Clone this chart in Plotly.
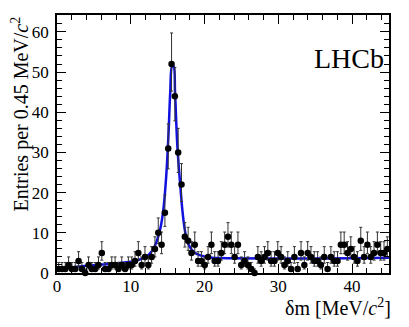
import numpy as np
import plotly.graph_objects as go

# bin centres of the delta-m histogram (0.45 MeV/c^2 bins)
bin_lo = 0.0
bin_width = 0.45
counts = [1, 1, 1, 2, 1, 1, 3, 1, 0, 2,
          1, 1, 2, 5, 1, 1, 2, 2, 1, 2,
          1, 2, 2, 3, 5, 2, 4, 2, 4, 6,
          10, 7, 15, 31, 52, 44, 30, 22, 9, 8,
          5, 7, 3, 3, 2, 4, 7, 3, 3, 5,
          7, 9, 7, 4, 7, 2, 3, 2, 1, 0,
          4, 3, 4, 5, 3, 3, 5, 4, 2, 3,
          1, 4, 1, 5, 2, 5, 4, 3, 3, 2,
          4, 1, 4, 3, 3, 7, 7, 5, 6, 4,
          3, 8, 4, 7, 4, 5, 7, 5, 5, 6]

# fit curve
fit_x = [0, 1, 2, 4, 6, 8, 10, 11, 12, 12.5, 13, 13.5, 14, 14.4, 14.8, 15.1,
         15.35, 15.6, 15.8, 16.0, 16.3, 16.7, 17.0, 17.3, 17.6, 18.0, 18.5,
         19, 20, 21, 23, 30, 40, 45]
fit_y = [0.8, 1.1, 1.4, 1.8, 2.1, 2.4, 2.8, 3.2, 4.0, 4.7, 5.8, 7.8, 11, 15.5,
         24, 34, 45, 51.5, 51.5, 45, 32, 22, 15.5, 11, 8.2, 6.5, 5.3,
         4.7, 4.1, 3.8, 3.7, 3.6, 3.7, 3.8]

x_tick_vals = [0, 10, 20, 30, 40]
y_tick_vals = [0, 10, 20, 30, 40, 50, 60]

n = np.array(counts, dtype=float)
centres = bin_lo + bin_width * (np.arange(len(counts)) + 0.5)
err_hi = np.sqrt(n + 0.25) + 0.5
err_lo = np.sqrt(n + 0.25) - 0.5

font = "Liberation Serif"

fig = go.Figure()
fig.add_trace(go.Scatter(
    x=fit_x, y=fit_y, mode="lines", line_shape="spline",
    line=dict(color="#1010e0", width=2.5), hoverinfo="skip"))
fig.add_trace(go.Scatter(
    x=centres, y=n, mode="markers",
    marker=dict(color="black", size=6.5),
    error_y=dict(type="data", array=err_hi, arrayminus=err_lo,
                 color="#333333", thickness=1, width=1.5),
    cliponaxis=False))

axis_common = dict(
    showgrid=False, zeroline=False, showline=True, linecolor="black",
    linewidth=1.5, mirror="allticks", ticks="inside", ticklen=9,
    tickwidth=1, tickcolor="black", automargin=False,
    tickfont=dict(family=font, size=17, color="black"),
    minor=dict(ticks="inside", ticklen=5, dtick=2, tickcolor="black",
               tickwidth=1))

fig.update_xaxes(range=[0, 45], tickvals=x_tick_vals, ticklabelstandoff=-3,
                 **axis_common)
fig.update_yaxes(range=[0, 64.2], tickvals=y_tick_vals, ticklabelstandoff=3,
                 **axis_common)

fig.add_annotation(text="δm [MeV/<i>c</i><sup>2</sup>]", xref="paper",
                   yref="paper", x=1, y=0, xanchor="right", yanchor="top",
                   yshift=-20, xshift=4, showarrow=False,
                   font=dict(family=font, size=20, color="black"))
fig.add_annotation(text="Entries per 0.45 MeV/<i>c</i><sup>2</sup>",
                   xref="paper", yref="paper", x=0, y=1, textangle=-90,
                   xanchor="center", yanchor="top", xshift=-37,
                   showarrow=False,
                   font=dict(family=font, size=20, color="black"))
fig.add_annotation(text="LHCb", xref="paper", yref="paper", x=0.99, y=0.83,
                   xanchor="right", yanchor="middle", showarrow=False,
                   font=dict(family=font, size=28, color="black"))

# page body keeps an 8px margin, so the figure is sized to fit inside it
fig.update_layout(
    width=401, height=319, showlegend=False,
    margin=dict(l=49, r=20, t=7, b=54, autoexpand=False),
    plot_bgcolor="white", paper_bgcolor="white")

fig.write_html("out.html")
